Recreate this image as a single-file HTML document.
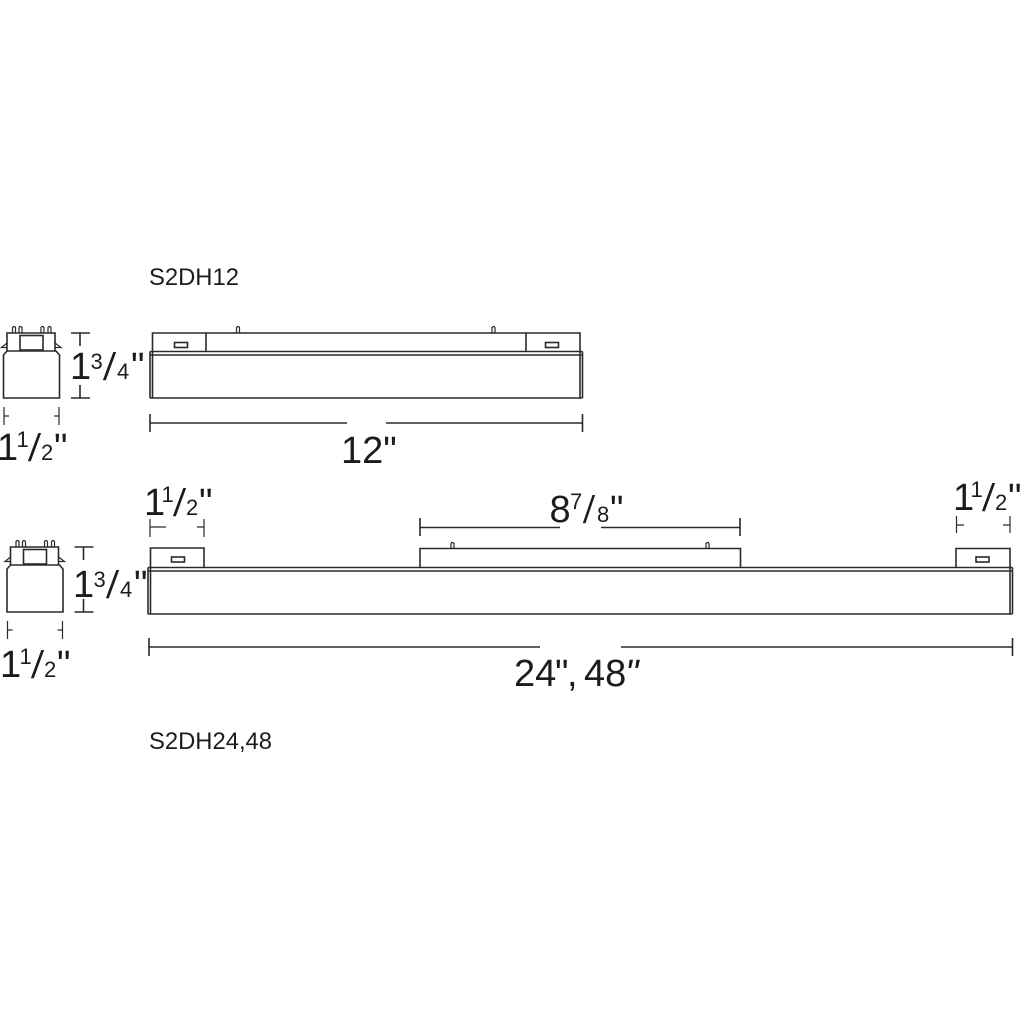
<!DOCTYPE html>
<html>
<head>
<meta charset="utf-8">
<style>
html,body{margin:0;padding:0;background:#fff}
svg{display:block}
.l{fill:none;stroke:#2a2a2a;stroke-width:1.6}
.t{stroke-width:1.2}
text{font-family:"Liberation Sans",sans-serif;fill:#1c1c1c}
.b{font-size:38px}
.s{font-size:22px}
.m{font-size:23.8px}
.f{font-size:40px;stroke:#fff;stroke-width:.9px}
</style>
</head>
<body>
<svg width="1024" height="1024" viewBox="0 0 1024 1024" xmlns="http://www.w3.org/2000/svg">
<rect width="1024" height="1024" fill="#fff"/>

<text class="m" x="149" y="285">S2DH12</text>
<text class="m" x="149" y="749">S2DH24,48</text>

<!-- End view 1 -->
<g class="l">
  <path d="M3.500 355V398H59.500V355L56 351H7L3.500 355Z"/>
  <path d="M7 351V333H55V351"/>
  <rect x="20" y="335.500" width="23" height="14.500"/>
  <path class="t" d="M7 343L1.500 347.500H7M55 343L61 347.500H55"/>
  <path class="t" d="M12.500 333V327.500Q14 325.500 15.500 327.500V333M19 333V327.500Q20.500 325.500 22 327.500V333M41 333V327.500Q42.500 325.500 44 327.500V333M48 333V327.500Q49.500 325.500 51 327.500V333"/>
  <path d="M71 333H90M71 398H90M80 333V346M80 385V398"/>
  <path class="t" d="M4 407V425M4 416H9M59 407V425M54 416H59"/>
</g>

<!-- End view 2 -->
<g class="l" transform="translate(3.500 214)">
  <path d="M3.500 355V398H59.500V355L56 351H7L3.500 355Z"/>
  <path d="M7 351V333H55V351"/>
  <rect x="20" y="335.500" width="23" height="14.500"/>
  <path class="t" d="M7 343L1.500 347.500H7M55 343L61 347.500H55"/>
  <path class="t" d="M12.500 333V327.500Q14 325.500 15.500 327.500V333M19 333V327.500Q20.500 325.500 22 327.500V333M41 333V327.500Q42.500 325.500 44 327.500V333M48 333V327.500Q49.500 325.500 51 327.500V333"/>
  <path d="M71 333H90M71 398H90M80 333V346M80 385V398"/>
  <path class="t" d="M4 407V425M4 416H9M59 407V425M54 416H59"/>
</g>

<!-- 12 inch fixture -->
<g class="l">
  <path d="M150 351.500H582.500M150 355H582.500M150 398H582.500"/>
  <path d="M150 351.500V398M152.500 351.500V398M580 351.500V398M582.500 351.500V398"/>
  <path d="M152.500 351V333H580V351M206 333V351M526 333V351"/>
  <rect x="174.500" y="342.500" width="13" height="5"/>
  <rect x="545.500" y="342.500" width="13" height="5"/>
  <path class="t" d="M236.500 333V327.500Q238 325.500 239.500 327.500V333M492 333V327.500Q493.500 325.500 495 327.500V333"/>
  <path d="M150 414V432M582.500 414V432M150 423H347M386 423H582.500"/>
</g>

<!-- long fixture -->
<g class="l">
  <path d="M148 567.500H1012.500M148 571H1012.500M148 614H1012.500"/>
  <path d="M148 567.500V614M150.500 567.500V614M1010 567.500V614M1012.500 567.500V614"/>
  <path d="M150.500 567V548H204V567"/>
  <path d="M420 567V548.500H740.500V567"/>
  <path d="M956 567V548.500H1010V567"/>
  <rect x="171.500" y="557" width="13" height="5"/>
  <rect x="976" y="557" width="13" height="5"/>
  <path class="t" d="M451 548V543.500Q452.500 541.500 454 543.500V548M706 548V543.500Q707.500 541.500 709 543.500V548"/>
  <path d="M149 638V656M1012.500 638V656M149 647H540M621 647H1012.500"/>
  <path d="M420 518V536M740 518V536M420 527.500H560M601 527.500H740"/>
  <path class="t" d="M150 519V537M150 527H166M204 519V537M197 527H204"/>
  <path class="t" d="M956.500 516V533M956.500 525H964M1010 516V533M1003 525H1010"/>
</g>

<!-- 1 1/2 labels -->
<g>
  <text class="b" x="-3" y="460">1</text><text class="s" x="16.500" y="447">1</text><text class="f" transform="translate(27 461.500) scale(1.35 1)">/</text><text class="s" x="41" y="460">2</text><text class="b" x="54" y="460">"</text>
</g>
<g transform="translate(3 217)">
  <text class="b" x="-3" y="460">1</text><text class="s" x="16.500" y="447">1</text><text class="f" transform="translate(27 461.500) scale(1.35 1)">/</text><text class="s" x="41" y="460">2</text><text class="b" x="54" y="460">"</text>
</g>
<g transform="translate(145 55)">
  <text class="b" x="-1" y="460">1</text><text class="s" x="16.500" y="447">1</text><text class="f" transform="translate(27 461.500) scale(1.35 1)">/</text><text class="s" x="41" y="460">2</text><text class="b" x="54" y="460">"</text>
</g>
<g transform="translate(954 50)">
  <text class="b" x="-1" y="460">1</text><text class="s" x="16.500" y="447">1</text><text class="f" transform="translate(27 461.500) scale(1.35 1)">/</text><text class="s" x="41" y="460">2</text><text class="b" x="54" y="460">"</text>
</g>

<!-- 1 3/4 labels -->
<g>
  <text class="b" x="70" y="379">1</text><text class="s" x="90.500" y="369">3</text><text class="f" transform="translate(102 380.500) scale(1.35 1)">/</text><text class="s" x="117" y="379">4</text><text class="b" x="131" y="379">"</text>
</g>
<g transform="translate(3 218)">
  <text class="b" x="70" y="379">1</text><text class="s" x="90.500" y="369">3</text><text class="f" transform="translate(102 380.500) scale(1.35 1)">/</text><text class="s" x="117" y="379">4</text><text class="b" x="131" y="379">"</text>
</g>

<!-- 8 7/8 -->
<text class="b" x="549.500" y="522">8</text>
<text class="s" x="570" y="509">7</text>
<text class="f" transform="translate(582 523.500) scale(1.25 1)">/</text>
<text class="s" x="597" y="522">8</text>
<text class="b" x="610" y="522">"</text>

<!-- 12 -->
<text class="b" x="341" y="463">12"</text>

<!-- 24, 48 -->
<text class="b" x="514" y="686">24</text>
<text class="b" x="555" y="686">"</text>
<text class="b" x="567" y="686">,</text>
<text class="b" x="584" y="686">48</text>
<text class="b" x="625" y="686" font-style="italic">"</text>
</svg>
</body>
</html>
